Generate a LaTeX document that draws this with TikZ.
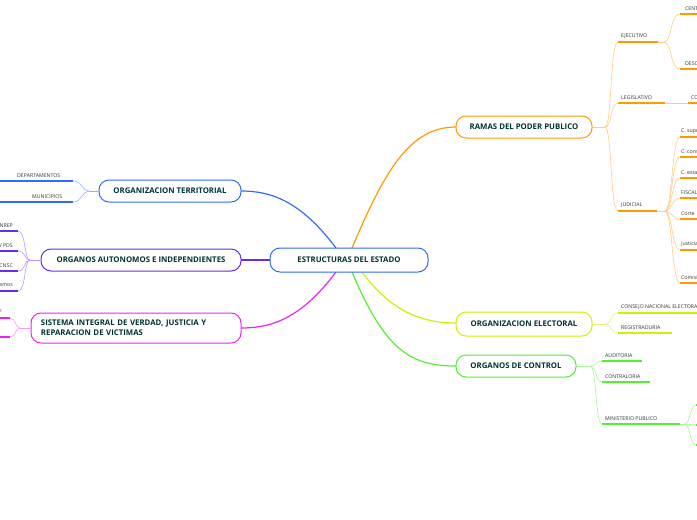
\documentclass[tikz,border=0pt]{standalone}
\usepackage{fontspec}
\setmainfont{Open Sans}
\begin{document}
\begin{tikzpicture}[x=1pt,y=-1pt,
  mainbox/.style={draw=#1,line width=1pt,rounded corners=10pt,fill=white,inner sep=0pt,font=\fontsize{7.8}{10}\selectfont\bfseries,text=teal!40!black,align=left},
  leaf/.style={font=\fontsize{5.2}{6}\selectfont,text=black!80,anchor=south west,inner sep=1pt},
  ul/.style={line width=1.3pt},
  br/.style={line width=0.6pt}]
\useasboundingbox (0,0) rectangle (697,520);
\clip (0,0) rectangle (697,520);
\definecolor{cor}{HTML}{FF9A00}\definecolor{corl}{HTML}{FFCC80}
\definecolor{cbl}{HTML}{2F6BFF}\definecolor{cbll}{HTML}{8FB0FF}
\definecolor{cpu}{HTML}{6A2BEE}\definecolor{cpul}{HTML}{B69BF5}
\definecolor{cmg}{HTML}{EE22EE}\definecolor{cmgl}{HTML}{F59BF5}
\definecolor{cye}{HTML}{D4EE00}\definecolor{cyel}{HTML}{E6F57A}
\definecolor{cgr}{HTML}{55EE33}\definecolor{cgrl}{HTML}{A8F59A}
% main connectors
\draw[cor,line width=1.2pt] (352,248) .. controls (385,170) and (410,127) .. (456,127);
\draw[cbl,line width=1.2pt] (336,248) .. controls (300,200) and (270,191) .. (241,191);
\draw[cpu,line width=1.2pt] (270,260) -- (241,260);
\draw[cmg,line width=1.2pt] (336,272) .. controls (300,320) and (270,328) .. (241,328);
\draw[cye,line width=1.2pt] (362,272) .. controls (390,310) and (420,323) .. (456,323);
\draw[cgr,line width=1.2pt] (352,272) .. controls (385,350) and (410,366) .. (456,366);
\node[mainbox=cbl,minimum width=158pt,minimum height=24pt,align=center] (c) at (349,260) {ESTRUCTURAS DEL ESTADO};
\node[mainbox=cor,minimum width=136pt,minimum height=22pt,align=center] (r) at (524,127) {RAMAS DEL PODER PUBLICO};
\node[mainbox=cbl,minimum width=142pt,minimum height=22pt,align=center] (t) at (170,191) {ORGANIZACION TERRITORIAL};
\node[mainbox=cpu,minimum width=200pt,minimum height=22pt,align=center] (a) at (141,260) {ORGANOS AUTONOMOS E INDEPENDIENTES};
\node[mainbox=cmg,minimum width=210pt,minimum height=30pt,text width=190pt] (s) at (136,328) {SISTEMA INTEGRAL DE VERDAD, JUSTICIA Y\\REPARACION DE VICTIMAS};
\node[mainbox=cye,minimum width=136pt,minimum height=24pt,align=center] (e) at (524,324) {ORGANIZACION ELECTORAL};
\node[mainbox=cgr,minimum width=120pt,minimum height=22pt,align=center] (g) at (516,366) {ORGANOS DE CONTROL};
% RAMAS branches
\coordinate (rj) at (605,127);
\draw[corl,br] (r.east) -- (rj);
\foreach \y/\x/\t in {42/658/EJECUTIVO,103/665/LEGISLATIVO,211/657/JUDICIAL}{
  \draw[corl,br] (rj) .. controls (612,127) and (610,\y) .. (618,\y);
  \draw[cor,ul] (618,\y) -- (\x,\y);
  \node[leaf] at (620,\y-2) {\t};}
\draw[corl,br] (658,42) -- (664,42);
\foreach \y/\t in {14/CENTRAL,69/DESCENTRALIZADO}{
  \draw[corl,br] (664,42) .. controls (672,42) and (670,\y) .. (680,\y);
  \draw[cor,ul] (680,\y) -- (697,\y);
  \node[leaf] at (684,\y-2) {\t};}
\draw[corl,br] (665,103) -- (688,103);
\draw[cor,ul] (688,103) -- (697,103);
\node[leaf] at (690,101) {CONGRESO};
\draw[corl,br] (657,211) -- (665,211);
\foreach \y/\t in {137/C. suprema,157/C. constitucional,178/C. estado,198/FISCALIA,219/Corte,250/justicia,283/Comision}{
  \draw[corl,br] (665,211) .. controls (672,211) and (672,\y) .. (680,\y);
  \draw[cor,ul] (680,\y) -- (697,\y);
  \node[leaf] at (680,\y-2) {\t};}
% Territorial
\coordinate (tj) at (89,191);
\draw[cbll,br] (t.west) -- (tj);
\foreach \y/\x/\t in {181/16/DEPARTAMENTOS,202/31/MUNICIPIOS}{
  \draw[cbll,br] (tj) .. controls (82,191) and (82,\y) .. (73,\y);
  \draw[cbl,ul] (0,\y) -- (73,\y);
  \node[leaf] at (\x,\y-2) {\t};}
% Autonomos
\coordinate (aj) at (30,260);
\draw[cpul,br] (a.west) -- (aj);
\foreach \y/\t in {231/BANREP,251/CNTV PDS,271/CNSC,291/Otros organismos}{
  \draw[cpul,br] (aj) .. controls (24,260) and (26,\y) .. (18,\y);
  \draw[cpu,ul] (0,\y) -- (18,\y);
  \node[leaf,anchor=south east] at (14,\y-2) {\t};}
% Sistema
\coordinate (sj) at (20,328);
\draw[cmgl,br] (s.west) -- (sj);
\foreach \y in {318,337}{
  \draw[cmgl,br] (sj) .. controls (15,328) and (16,\y) .. (10,\y);
  \draw[cmg,ul] (0,\y) -- (10,\y);}
\node[leaf,anchor=south east] at (3,316) {JEP};
% Electoral
\coordinate (ej) at (605,324);
\draw[cyel,br] (e.east) -- (ej);
\foreach \y/\x/\t in {313/697/CONSEJO NACIONAL ELECTORAL,333/672/REGISTRADURIA}{
  \draw[cyel,br] (ej) .. controls (612,324) and (610,\y) .. (618,\y);
  \draw[cye,ul] (618,\y) -- (\x,\y);
  \node[leaf] at (620,\y-2) {\t};}
% Control
\coordinate (gj) at (590,366);
\draw[cgrl,br] (g.east) -- (gj);
\foreach \y/\x/\t in {361/642/AUDITORIA,382/650/CONTRALORIA,424/680/MINISTERIO PUBLICO}{
  \draw[cgrl,br] (gj) .. controls (597,366) and (595,\y) .. (602,\y);
  \draw[cgr,ul] (602,\y) -- (\x,\y);
  \node[leaf] at (604,\y-2) {\t};}
\draw[cgrl,br] (680,424) -- (685,424);
\foreach \y in {405,425,445}{
  \draw[cgrl,br] (685,424) .. controls (690,424) and (690,\y) .. (696,\y);
  \draw[cgr,ul] (696,\y) -- (697,\y);}
\end{tikzpicture}
\end{document}
